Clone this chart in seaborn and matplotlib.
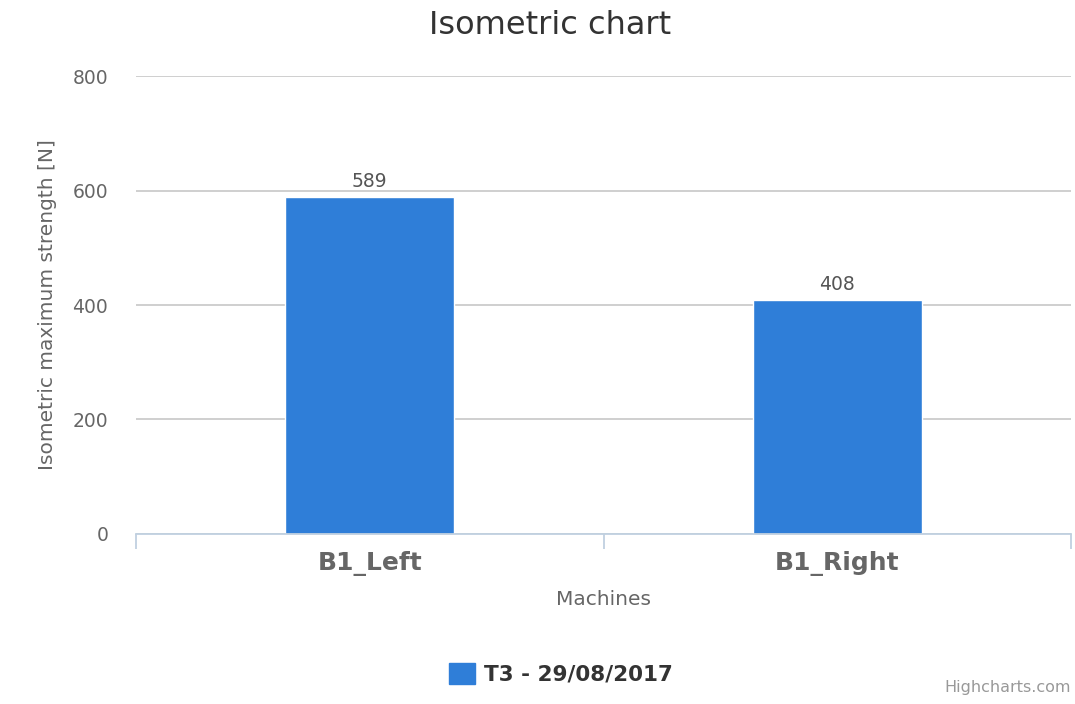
import pandas as pd
import matplotlib.pyplot as plt
import seaborn as sns

# Data
machines = ['B1_Left', 'B1_Right']
strength = [589, 408]
series_name = 'T3 - 29/08/2017'

df = pd.DataFrame({'machine': machines, 'strength': strength, 'series': series_name})

sns.set_theme(style='white')
plt.rcParams['font.family'] = ['DejaVu Sans']

fig = plt.figure(figsize=(10.75, 7.04), dpi=100)
ax = fig.add_axes([0.1265, 0.2415, 0.8698, 0.6505])

bar_color = '#2F7ED8'
sns.barplot(data=df, x='machine', y='strength', hue='series', palette=[bar_color],
            width=0.362, dodge=False, ax=ax, legend=False, saturation=1)

# value labels
for bar, val in zip(ax.patches, strength):
    ax.text(bar.get_x() + bar.get_width() / 2, val + 11, f'{val}',
            ha='center', va='bottom', fontsize=13.5, color='#555555')

ax.set_ylim(0, 800)
ax.set_yticks([0, 200, 400, 600, 800])
ax.set_xlim(-0.5, 1.5)
ax.grid(axis='y', color='#CCCCCC', linewidth=1.3)
ax.set_axisbelow(True)

for s in ['top', 'right', 'left']:
    ax.spines[s].set_visible(False)
ax.spines['bottom'].set_color('#C0D0E0')
ax.spines['bottom'].set_linewidth(1.3)

# tick marks between categories, like Highcharts
ax.set_xticks([-0.5, 0.5, 1.5], minor=True)
ax.tick_params(axis='x', which='minor', length=11, width=1.3, color='#C0D0E0', bottom=True)
ax.tick_params(axis='x', which='major', length=0, pad=12, labelsize=18, labelcolor='#666666')
ax.tick_params(axis='y', length=0, pad=20, labelsize=13.5, labelcolor='#666666')
for lbl in ax.get_xticklabels():
    lbl.set_fontweight('bold')

ax.set_xlabel('Machines', fontsize=14.5, color='#666666', labelpad=10)
ax.set_ylabel('Isometric maximum strength [N]', fontsize=14.5, color='#666666', labelpad=11)

fig.text(0.512, 0.964, 'Isometric chart', ha='center', va='center', fontsize=23, color='#333333')

# legend
handle = plt.Rectangle((0, 0), 1, 1, color=bar_color)
fig.legend([handle], [series_name], loc='center', bbox_to_anchor=(0.522, 0.043),
           frameon=False, handlelength=1.2, handleheight=1.1, handletextpad=0.45,
           prop={'weight': 'bold', 'size': 15.5}, labelcolor='#333333')

fig.text(0.996, 0.013, 'Highcharts.com', ha='right', va='bottom', fontsize=11.5, color='#999999')

plt.savefig('out.png', dpi=100)
plt.close()
